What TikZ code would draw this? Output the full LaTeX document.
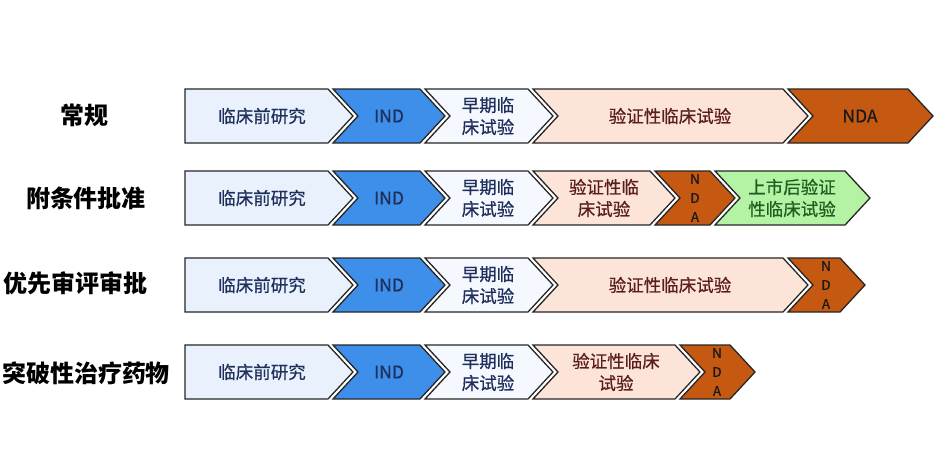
\documentclass[tikz,border=0pt]{standalone}
\usepackage{fontspec}
\setmainfont{Noto Sans CJK SC}
\newfontfamily\medfont{Noto Sans CJK SC}[FakeBold=0.6]
\definecolor{preC}{HTML}{E9F1FC}
\definecolor{indC}{HTML}{3D8FEA}
\definecolor{earlyC}{HTML}{F5F9FF}
\definecolor{valC}{HTML}{FDE4D9}
\definecolor{ndaC}{HTML}{C65911}
\definecolor{grnC}{HTML}{B4F2A4}
\definecolor{navyT}{HTML}{1F2F5C}
\definecolor{valT}{HTML}{5A1E1E}
\definecolor{grnT}{HTML}{1F5F1F}
\definecolor{edgeC}{HTML}{262626}
\tikzset{
  arrowbox/.style={draw=edgeC, line width=1.3pt, line join=miter, preaction={draw=white, line width=5pt}},
  txt/.style={font=\medfont\fontsize{17.5}{22}\selectfont, align=center, inner sep=0pt},
  vtxt/.style={font=\medfont\fontsize{13.5}{19}\selectfont, align=center, inner sep=0pt, text=black!90},
  rowlabel/.style={font=\fontsize{24}{28}\selectfont\bfseries, inner sep=0pt},
}
% #1 x0, #2 x1 (corner), #3 ytop, #4 fill
\newcommand{\chevshape}[4]{%
  \path[arrowbox, fill=#4] (#1,#3) -- (#2,#3) -- ({#2+25},{#3+27}) -- (#2,{#3+54}) -- (#1,{#3+54}) -- ({#1+25},{#3+27}) -- cycle;}
\newcommand{\pentshape}[4]{%
  \path[arrowbox, fill=#4] (#1,#3) -- (#2,#3) -- ({#2+25},{#3+27}) -- (#2,{#3+54}) -- (#1,{#3+54}) -- cycle;}
\begin{document}
\begin{tikzpicture}[x=1pt,y=-1pt]
\useasboundingbox (0,0) rectangle (948,459);
% row labels
\node[rowlabel] (l1) at (84,115) {常规};
\node[rowlabel] (l2) at (86,198) {附条件批准};
\node[rowlabel] (l3) at (76,283) {优先审评审批};
\node[rowlabel] (l4) at (86,373) {突破性治疗药物};

% Row 1
\pentshape{185}{328}{89}{preC}
\chevshape{333}{420}{89}{indC}
\chevshape{425}{528}{89}{earlyC}
\chevshape{533}{783}{89}{valC}
\chevshape{788}{908}{89}{ndaC}
\node[txt, text=navyT] (a1) at (262,116) {临床前研究};
\node[txt, text=navyT] (a2) at (389,116) {IND};
\node[txt, text=navyT] (a3) at (488,116) {早期临\\床试验};
\node[txt, text=valT] (a4) at (670,116) {验证性临床试验};
\node[txt, text=black!90] (a5) at (860,116) {NDA};

% Row 2
\pentshape{185}{328}{171}{preC}
\chevshape{333}{420}{171}{indC}
\chevshape{425}{528}{171}{earlyC}
\chevshape{533}{650}{171}{valC}
\chevshape{655}{710}{171}{ndaC}
\chevshape{715}{845}{171}{grnC}
\node[txt, text=navyT] (b1) at (262,198) {临床前研究};
\node[txt, text=navyT] (b2) at (389,198) {IND};
\node[txt, text=navyT] (b3) at (488,198) {早期临\\床试验};
\node[txt, text=valT] (b4) at (604,198) {验证性临\\床试验};
\node[vtxt] (b5) at (695,198) {N\\D\\A};
\node[txt, text=grnT] (b6) at (792,198) {上市后验证\\性临床试验};

% Row 3
\pentshape{185}{328}{258}{preC}
\chevshape{333}{420}{258}{indC}
\chevshape{425}{528}{258}{earlyC}
\chevshape{533}{783}{258}{valC}
\chevshape{788}{840}{258}{ndaC}
\node[txt, text=navyT] (c1) at (262,285) {临床前研究};
\node[txt, text=navyT] (c2) at (389,285) {IND};
\node[txt, text=navyT] (c3) at (488,285) {早期临\\床试验};
\node[txt, text=valT] (c4) at (670,285) {验证性临床试验};
\node[vtxt] (c5) at (826,285) {N\\D\\A};

% Row 4
\pentshape{185}{328}{345}{preC}
\chevshape{333}{420}{345}{indC}
\chevshape{425}{528}{345}{earlyC}
\chevshape{533}{675}{345}{valC}
\chevshape{680}{730}{345}{ndaC}
\node[txt, text=navyT] (d1) at (262,372) {临床前研究};
\node[txt, text=navyT] (d2) at (389,372) {IND};
\node[txt, text=navyT] (d3) at (488,372) {早期临\\床试验};
\node[txt, text=valT] (d4) at (616,372) {验证性临床\\试验};
\node[vtxt] (d5) at (717,372) {N\\D\\A};
\end{tikzpicture}
\end{document}
